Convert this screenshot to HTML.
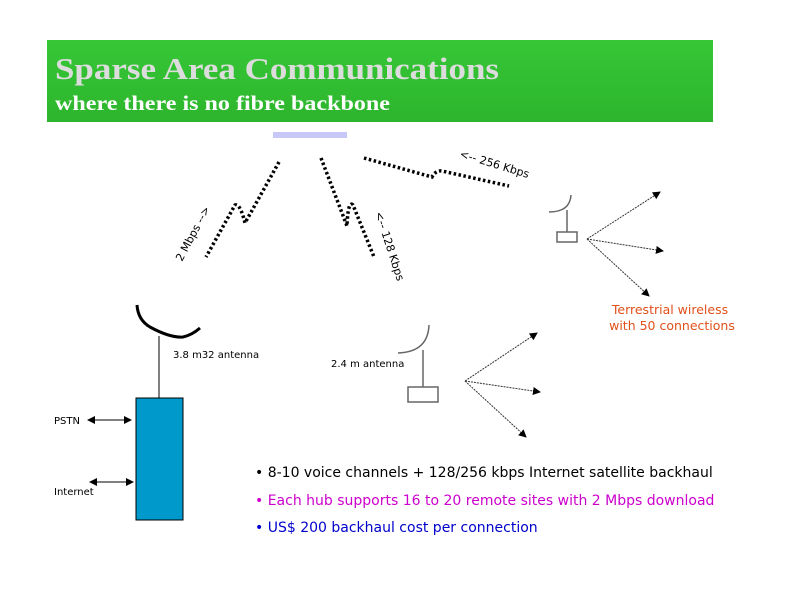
<!DOCTYPE html>
<html><head><meta charset="utf-8"><style>
html,body{margin:0;padding:0;background:#fff;}
svg{display:block;}
</style></head><body>
<svg width="800" height="600" viewBox="0 0 800 600" xmlns="http://www.w3.org/2000/svg">
<defs>
<linearGradient id="g" x1="0" y1="0" x2="0" y2="1"><stop offset="0" stop-color="#36c736"/><stop offset="1" stop-color="#2db52d"/></linearGradient>
<marker id="a" markerWidth="8" markerHeight="8" refX="7" refY="4" orient="auto" markerUnits="userSpaceOnUse"><path d="M0,0 L8,4 L0,8 z" fill="#000"/></marker>
<marker id="as" markerWidth="8" markerHeight="8" refX="1" refY="4" orient="auto" markerUnits="userSpaceOnUse"><path d="M8,0 L0,4 L8,8 z" fill="#000"/></marker>
</defs>
<rect x="47" y="40" width="666" height="82" fill="url(#g)"/>
<text x="55" y="79" font-family="Liberation Serif, serif" font-size="31" font-weight="bold" fill="#dcdcdc" textLength="444" lengthAdjust="spacingAndGlyphs">Sparse Area Communications</text>
<text x="55" y="110" font-family="Liberation Serif, serif" font-size="21" font-weight="bold" fill="#fff" textLength="335" lengthAdjust="spacingAndGlyphs">where there is no fibre backbone</text>
<rect x="273" y="132" width="74" height="6" fill="#c8c8f8"/>
<g fill="none" stroke="#000" stroke-width="3.5" stroke-dasharray="2.5,2.5">
<path d="M279,162 L245,223 Q240,203 235,205 L206,257"/>
<path d="M321,158 L347,226 Q348,200 353,205 L374,257"/>
<path d="M364,158 L432,177 Q436,170 442,171 L509,186"/>
</g>
<g font-family="DejaVu Sans, sans-serif" font-size="11" fill="#000">
<text transform="translate(182,262) rotate(-62)">2 Mbps --&gt;</text>
<text transform="translate(375,213) rotate(72)">&lt;-- 128 Kbps</text>
<text transform="translate(459,157) rotate(17)">&lt;-- 256 Kbps</text>
</g>
<g fill="none" stroke="#666" stroke-width="1.5">
<path d="M549,212 Q570,212 571,195"/>
<line x1="567" y1="210" x2="567" y2="232"/>
<rect x="557" y="232" width="20" height="10"/>
<path d="M398,353 Q428,352 429,325"/>
<line x1="423" y1="350" x2="423" y2="387"/>
<rect x="408" y="387" width="30" height="15"/>
</g>
<g stroke="#333" stroke-width="1" stroke-dasharray="2,1" marker-end="url(#a)">
<line x1="587" y1="239" x2="660" y2="192"/>
<line x1="587" y1="239" x2="663" y2="251"/>
<line x1="587" y1="239" x2="649" y2="296"/>
<line x1="465" y1="381" x2="537" y2="333"/>
<line x1="465" y1="381" x2="540" y2="392"/>
<line x1="465" y1="381" x2="526" y2="437"/>
</g>
<text font-family="DejaVu Sans, sans-serif" font-size="12.5" fill="#e0501a" text-anchor="middle"><tspan x="670" y="314">Terrestrial wireless</tspan><tspan x="672" y="330">with 50 connections</tspan></text>
<path d="M137,305 Q138,320 150,327 Q170,338 183,337 Q192,335 200,328" fill="none" stroke="#000" stroke-width="3"/>
<line x1="159" y1="336" x2="159" y2="398" stroke="#000" stroke-width="1"/>
<rect x="136" y="398" width="47" height="122" fill="#0099cc" stroke="#000" stroke-width="1"/>
<g font-family="DejaVu Sans, sans-serif" font-size="10" fill="#000">
<text x="173" y="358">3.8 m32 antenna</text>
<text x="331" y="367">2.4 m antenna</text>
<text x="54" y="424">PSTN</text>
<text x="54" y="495">Internet</text>
</g>
<line x1="88" y1="420" x2="131" y2="420" stroke="#000" marker-end="url(#a)" marker-start="url(#as)"/>
<line x1="90" y1="482" x2="133" y2="482" stroke="#000" marker-end="url(#a)" marker-start="url(#as)"/>
<g font-family="DejaVu Sans, sans-serif" font-size="14" xml:space="preserve" style="white-space:pre">
<text x="255" y="477" fill="#000">•  8-10 voice channels  +  128/256 kbps Internet satellite backhaul</text>
<text x="255" y="505" fill="#cc00cc">•  Each hub supports 16 to 20 remote sites with 2 Mbps download</text>
<text x="255" y="532" fill="#0000cc">• US$ 200  backhaul cost per connection</text>
</g>
</svg>
</body></html>
